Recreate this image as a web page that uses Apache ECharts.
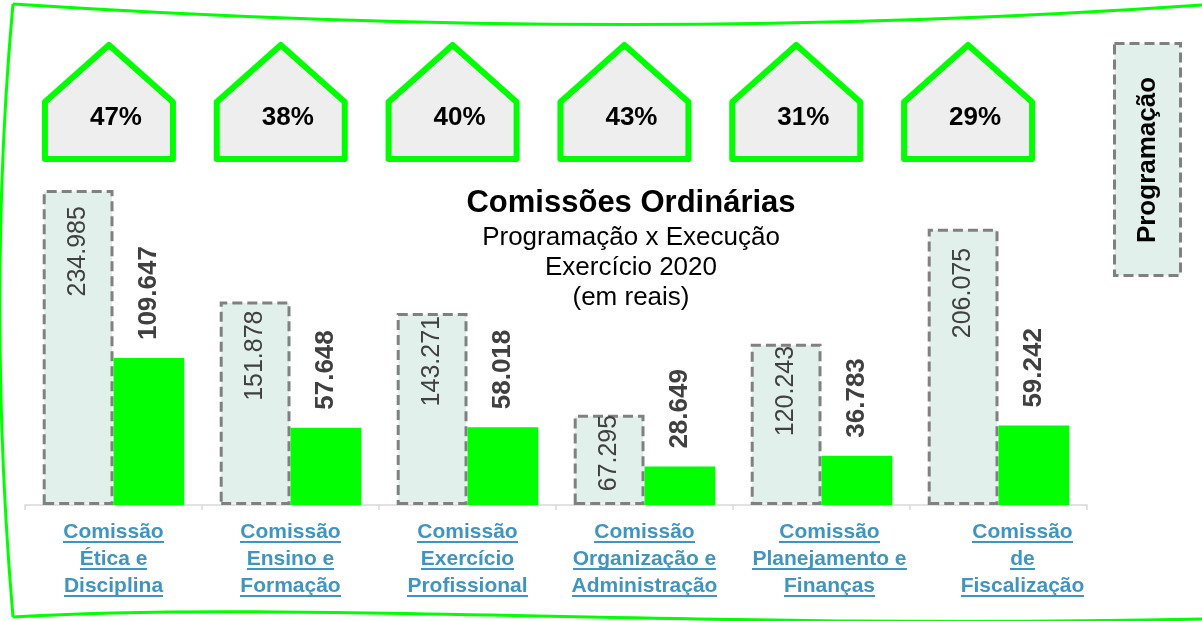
<!DOCTYPE html>
<html>
<head>
<meta charset="utf-8">
<script src="https://cdn.jsdelivr.net/npm/echarts@6/dist/echarts.min.js"></script>
<style>
  html, body { margin: 0; padding: 0; background: #ffffff; }
  #chart { width: 1202px; height: 621px; }
</style>
</head>
<body>
<div id="chart"></div>
<script>
// Committees (category axis labels, one line per row)
const categories = [
  'Comissão\nÉtica e\nDisciplina',
  'Comissão\nEnsino e\nFormação',
  'Comissão\nExercício\nProfissional',
  'Comissão\nOrganização e\nAdministração',
  'Comissão\nPlanejamento e\nFinanças',
  'Comissão\nde\nFiscalização'
];
// Planned budget (R$)
const programacao = [234985, 151878, 143271, 67295, 120243, 206075];
// Executed budget (R$)
const execucao = [109647, 57648, 58018, 28649, 36783, 59242];
// Heading lines
const titleLines = ['Comissões Ordinárias', 'Programação x Execução', 'Exercício 2020', '(em reais)'];
const seriesNames = ['Programação', 'Execução'];

const FONT = "'Liberation Sans', Arial, Helvetica, sans-serif";
const LINK_BLUE = '#3F95BF';

// thousands separator "." (pt-BR style)
function fmt(v) {
  return String(v).replace(/\B(?=(\d{3})+(?!\d))/g, '.');
}

// execution rate per committee
const taxa = programacao.map((p, i) => Math.round(execucao[i] / p * 100));

// small canvas used as a stretched background to draw an underline under each label line
function underlineImage(color) {
  const c = document.createElement('canvas');
  c.width = 4; c.height = 27;
  const ctx = c.getContext('2d');
  ctx.fillStyle = color;
  ctx.fillRect(0, 22, 4, 2);
  return c;
}
const uline = underlineImage(LINK_BLUE);

// slight horizontal nudges of some category labels
const labelPad = [0, 0, 0, 0, 16, 48];
// gap between the top of each planned bar and its value label
const progLabelGap = [16, 9, 3, 0, 2, 19];

const chart = echarts.init(document.getElementById('chart'), null, { renderer: 'canvas' });

const option = {
  animation: false,
  backgroundColor: '#ffffff',
  textStyle: { fontFamily: FONT },
  grid: [
    { left: 25, right: 115, top: 103, bottom: 116, containLabel: false },
    { left: 23, right: 148, top: 45, height: 114, containLabel: false }
  ],
  xAxis: [
    {
      type: 'category',
      gridIndex: 0,
      data: categories.map((c, i) => labelPad[i]
        ? { value: c, textStyle: { padding: [0, 0, 0, labelPad[i]] } }
        : c),
      axisLine: { show: true, lineStyle: { color: '#D9D9D9', width: 1.5 } },
      axisTick: { show: true, length: 5, lineStyle: { color: '#D9D9D9', width: 1.5 } },
      axisLabel: {
        interval: 0,
        margin: 14,
        formatter: v => v.split('\n').map(l => '{u|' + l + '}').join('\n'),
        rich: {
          u: {
            fontFamily: FONT,
            fontSize: 21,
            fontWeight: 'bold',
            color: LINK_BLUE,
            lineHeight: 27,
            height: 27,
            backgroundColor: { image: uline }
          }
        }
      }
    },
    {
      type: 'category',
      gridIndex: 1,
      data: categories,
      show: false
    }
  ],
  yAxis: [
    {
      type: 'value',
      gridIndex: 0,
      min: 0,
      max: 300000,
      show: false,
      splitLine: { show: false }
    },
    {
      type: 'value',
      gridIndex: 1,
      min: 0,
      max: 1,
      show: false,
      splitLine: { show: false }
    }
  ],
  series: [
    {
      name: seriesNames[0],
      type: 'bar',
      xAxisIndex: 0,
      yAxisIndex: 0,
      data: programacao.map((v, i) => ({ value: v, label: { distance: progLabelGap[i] } })),
      barWidth: '40%',
      barGap: '0%',
      itemStyle: {
        color: '#E2F0EC',
        borderColor: '#808080',
        borderWidth: 3,
        borderType: [10, 5]
      },
      label: {
        show: true,
        position: 'insideTop',
        rotate: 90,
        align: 'right',
        verticalAlign: 'middle',
        distance: 12,
        formatter: p => fmt(p.value),
        fontFamily: FONT,
        fontSize: 25,
        color: '#404040'
      }
    },
    {
      name: seriesNames[1],
      type: 'bar',
      xAxisIndex: 0,
      yAxisIndex: 0,
      data: execucao,
      barWidth: '40%',
      barGap: '0%',
      itemStyle: { color: '#00FF00' },
      label: {
        show: true,
        position: 'top',
        rotate: 90,
        align: 'left',
        verticalAlign: 'middle',
        distance: 18,
        formatter: p => fmt(p.value),
        fontFamily: FONT,
        fontSize: 26,
        fontWeight: 'bold',
        color: '#404040'
      }
    },
    {
      // house-shaped badges with the execution rate
      type: 'custom',
      xAxisIndex: 1,
      yAxisIndex: 1,
      data: taxa.map((t, i) => [i, 0, t]),
      encode: { x: 0, y: 1 },
      clip: false,
      silent: true,
      renderItem: function (params, api) {
        const i = api.value(0);
        const top = api.coord([i, 1]);
        const shoulder = api.coord([i, 0.5]);
        const bottom = api.coord([i, 0]);
        const w = api.size([1, 0])[0] * 0.745;
        const cx = top[0];
        const pts = [
          [cx, top[1]],
          [cx + w / 2, shoulder[1]],
          [cx + w / 2, bottom[1]],
          [cx - w / 2, bottom[1]],
          [cx - w / 2, shoulder[1]]
        ];
        const tp = api.coord([i, 0.36]);
        return {
          type: 'group',
          children: [
            {
              type: 'polygon',
              shape: { points: pts },
              style: { fill: '#EEEEEE', stroke: '#00FF00', lineWidth: 6, lineJoin: 'round' }
            },
            {
              type: 'text',
              x: cx + w * 0.055,
              y: tp[1],
              style: {
                text: api.value(2) + '%',
                fontFamily: FONT,
                fontSize: 26,
                fontWeight: 'bold',
                fill: '#000000',
                align: 'center',
                verticalAlign: 'middle'
              }
            }
          ]
        };
      }
    }
  ],
  graphic: [
    // hand-drawn style frame
    {
      type: 'bezierCurve', silent: true,
      shape: { x1: 13, y1: 4, cpx1: 410, cpy1: 30, cpx2: 810, cpy2: 32, x2: 1202, y2: 5 },
      style: { stroke: '#00FF00', lineWidth: 3, fill: null }
    },
    {
      type: 'bezierCurve', silent: true,
      shape: { x1: 13, y1: 4, cpx1: -5, cpy1: 200, cpx2: -4, cpy2: 420, x2: 13, y2: 617 },
      style: { stroke: '#00FF00', lineWidth: 3, fill: null }
    },
    {
      type: 'bezierCurve', silent: true,
      shape: { x1: 13, y1: 617, cpx1: 300, cpy1: 600, cpx2: 700, cpy2: 630, x2: 1202, y2: 619 },
      style: { stroke: '#00FF00', lineWidth: 3, fill: null }
    },
    // heading
    {
      type: 'text', x: 631, y: 203, silent: true,
      style: { text: titleLines[0], fontFamily: FONT, fontSize: 31, fontWeight: 'bold', fill: '#000', align: 'center', verticalAlign: 'middle' }
    },
    {
      type: 'text', x: 631, y: 238, silent: true,
      style: { text: titleLines[1], fontFamily: FONT, fontSize: 26, fill: '#000', align: 'center', verticalAlign: 'middle' }
    },
    {
      type: 'text', x: 631, y: 268, silent: true,
      style: { text: titleLines[2], fontFamily: FONT, fontSize: 26, fill: '#000', align: 'center', verticalAlign: 'middle' }
    },
    {
      type: 'text', x: 631, y: 298, silent: true,
      style: { text: titleLines[3], fontFamily: FONT, fontSize: 26, fill: '#000', align: 'center', verticalAlign: 'middle' }
    },
    // series key
    {
      type: 'rect', silent: true,
      shape: { x: 1114.5, y: 43.5, width: 66, height: 232 },
      style: { fill: '#E2F0EC', stroke: '#808080', lineWidth: 3, lineDash: [10, 5] }
    },
    {
      type: 'text', x: 1148, y: 160, rotation: Math.PI / 2, silent: true,
      style: { text: seriesNames[0], fontFamily: FONT, fontSize: 26, fontWeight: 'bold', fill: '#000', align: 'center', verticalAlign: 'middle' }
    }
  ]
};

chart.setOption(option);
</script>
</body>
</html>
